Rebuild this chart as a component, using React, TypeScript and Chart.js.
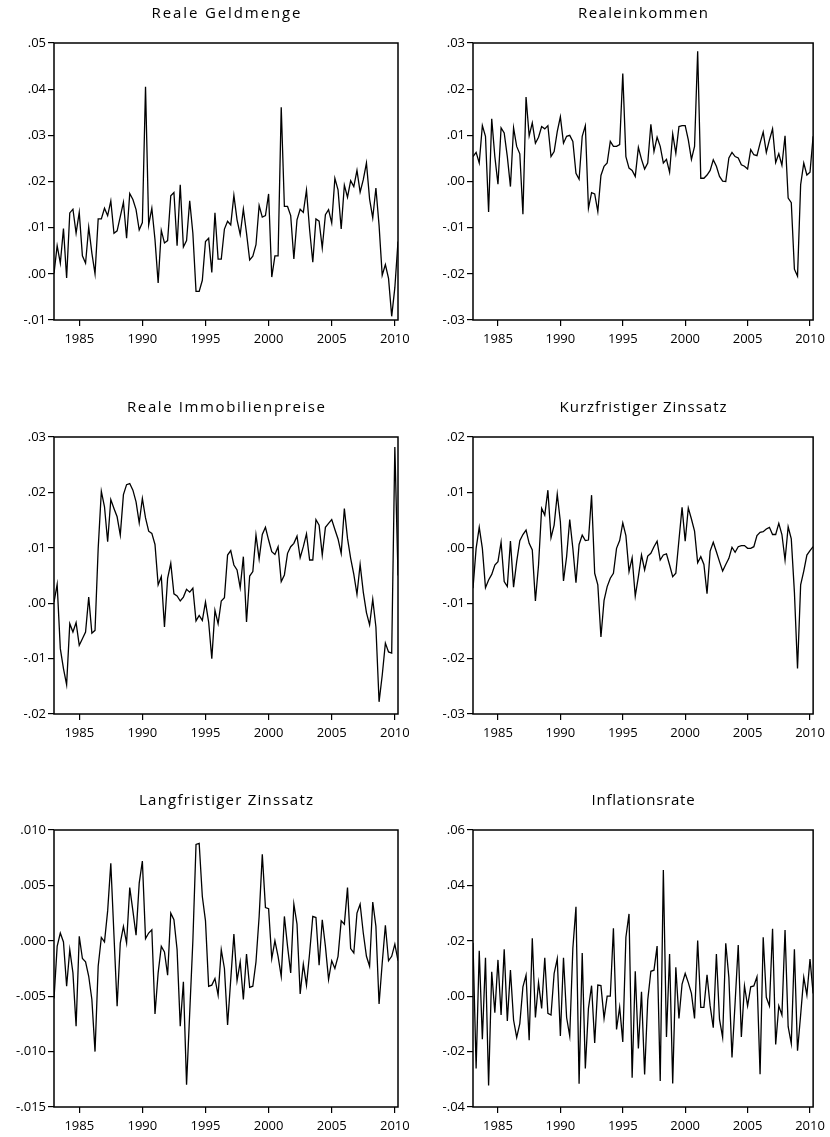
import React, { useEffect, useRef } from 'react';
import { Chart, registerables } from 'chart.js';

Chart.register(...registerables);

// ---- data (quarterly, 1983Q1 .. 2010Q2) ----
const START_YEAR = 1983;
const xTickYears = [1985, 1990, 1995, 2000, 2005, 2010];

const titles = [
  'Reale Geldmenge',
  'Realeinkommen',
  'Reale Immobilienpreise',
  'Kurzfristiger Zinssatz',
  'Langfristiger Zinssatz',
  'Inflationsrate',
];

const realeGeldmenge = [
  0.0001, 0.0061, 0.0023, 0.0098, -0.0009, 0.0132, 0.0140, 0.0088, 0.0133, 0.0039,
  0.0023, 0.0101, 0.0045, 0.0000, 0.0119, 0.0119, 0.0142, 0.0126, 0.0158, 0.0088,
  0.0093, 0.0124, 0.0155, 0.0077, 0.0174, 0.0161, 0.0139, 0.0095, 0.0111, 0.0405,
  0.0106, 0.0142, 0.0074, -0.0020, 0.0094, 0.0067, 0.0072, 0.0169, 0.0176, 0.0061,
  0.0193, 0.0058, 0.0072, 0.0158, 0.0088, -0.0038, -0.0038, -0.0014, 0.0070, 0.0077,
  0.0003, 0.0132, 0.0032, 0.0032, 0.0097, 0.0114, 0.0106, 0.0170, 0.0117, 0.0085,
  0.0140, 0.0088, 0.0030, 0.0038, 0.0063, 0.0148, 0.0123, 0.0126, 0.0173, -0.0007,
  0.0039, 0.0039, 0.0361, 0.0146, 0.0146, 0.0126, 0.0032, 0.0117, 0.0140, 0.0133,
  0.0181, 0.0095, 0.0025, 0.0119, 0.0114, 0.0056, 0.0128, 0.0139, 0.0110, 0.0207,
  0.0182, 0.0097, 0.0192, 0.0166, 0.0202, 0.0189, 0.0224, 0.0177, 0.0204, 0.0240,
  0.0162, 0.0121, 0.0186, 0.0105, -0.0003, 0.0020, -0.0010, -0.0092, -0.0030, 0.0070,
];

const realeinkommen = [
  0.0054, 0.0063, 0.0040, 0.0121, 0.0098, -0.0066, 0.0136, 0.0054, -0.0006, 0.0116,
  0.0105, 0.0054, -0.0011, 0.0116, 0.0076, 0.0060, -0.0071, 0.0183, 0.0099, 0.0127,
  0.0083, 0.0096, 0.0119, 0.0114, 0.0121, 0.0054, 0.0065, 0.0108, 0.0140, 0.0083,
  0.0098, 0.0100, 0.0087, 0.0018, 0.0005, 0.0098, 0.0121, -0.0058, -0.0024, -0.0027,
  -0.0065, 0.0013, 0.0033, 0.0040, 0.0087, 0.0076, 0.0076, 0.0080, 0.0234, 0.0054,
  0.0029, 0.0024, 0.0011, 0.0074, 0.0048, 0.0027, 0.0040, 0.0124, 0.0065, 0.0096,
  0.0076, 0.0040, 0.0048, 0.0020, 0.0103, 0.0061, 0.0119, 0.0121, 0.0121, 0.0090,
  0.0048, 0.0076, 0.0282, 0.0007, 0.0007, 0.0014, 0.0024, 0.0047, 0.0033, 0.0011,
  0.0001, 0.0000, 0.0051, 0.0063, 0.0054, 0.0051, 0.0036, 0.0033, 0.0027, 0.0069,
  0.0058, 0.0056, 0.0083, 0.0107, 0.0063, 0.0090, 0.0114, 0.0041, 0.0060, 0.0035,
  0.0099, -0.0036, -0.0046, -0.0190, -0.0205, -0.0007, 0.0040, 0.0014, 0.0020, 0.0098,
];

const realeImmobilienpreise = [
  0.0002, 0.0034, -0.0082, -0.0118, -0.0147, -0.0037, -0.0052, -0.0035, -0.0076, -0.0064,
  -0.0052, 0.0011, -0.0054, -0.0049, 0.0099, 0.0202, 0.0174, 0.0111, 0.0187, 0.0171,
  0.0156, 0.0123, 0.0196, 0.0214, 0.0216, 0.0204, 0.0183, 0.0145, 0.0189, 0.0154,
  0.0130, 0.0126, 0.0106, 0.0033, 0.0048, -0.0043, 0.0045, 0.0072, 0.0017, 0.0013,
  0.0004, 0.0011, 0.0025, 0.0020, 0.0027, -0.0032, -0.0022, -0.0031, 0.0002, -0.0034,
  -0.0100, -0.0013, -0.0037, 0.0004, 0.0010, 0.0087, 0.0095, 0.0069, 0.0060, 0.0028,
  0.0084, -0.0034, 0.0049, 0.0057, 0.0123, 0.0080, 0.0124, 0.0137, 0.0114, 0.0093,
  0.0088, 0.0102, 0.0039, 0.0051, 0.0090, 0.0102, 0.0108, 0.0121, 0.0082, 0.0102,
  0.0125, 0.0078, 0.0078, 0.0151, 0.0141, 0.0087, 0.0137, 0.0144, 0.0151, 0.0133,
  0.0116, 0.0090, 0.0171, 0.0117, 0.0081, 0.0052, 0.0016, 0.0070, 0.0020, -0.0017,
  -0.0039, 0.0007, -0.0043, -0.0178, -0.0130, -0.0072, -0.0088, -0.0090, 0.0282, 0.0050,
];

const kurzfristigerZinssatz = [
  -0.0073, -0.0001, 0.0037, -0.0001, -0.0072, -0.0058, -0.0048, -0.0031, -0.0025, 0.0010,
  -0.0061, -0.0070, 0.0012, -0.0071, -0.0025, 0.0013, 0.0024, 0.0032, 0.0008, -0.0004,
  -0.0096, -0.0031, 0.0071, 0.0059, 0.0104, 0.0018, 0.0041, 0.0097, 0.0047, -0.0060,
  -0.0016, 0.0051, -0.0001, -0.0063, 0.0006, 0.0023, 0.0013, 0.0014, 0.0095, -0.0046,
  -0.0067, -0.0161, -0.0095, -0.0070, -0.0055, -0.0046, -0.0001, 0.0013, 0.0045, 0.0022,
  -0.0043, -0.0018, -0.0087, -0.0052, -0.0013, -0.0040, -0.0015, -0.0010, 0.0002, 0.0012,
  -0.0022, -0.0013, -0.0011, -0.0031, -0.0052, -0.0046, 0.0014, 0.0073, 0.0012, 0.0072,
  0.0052, 0.0030, -0.0027, -0.0016, -0.0030, -0.0083, -0.0006, 0.0010, -0.0007, -0.0025,
  -0.0042, -0.0030, -0.0019, 0.0001, -0.0008, 0.0002, 0.0004, 0.0004, -0.0001, -0.0001,
  0.0002, 0.0022, 0.0028, 0.0029, 0.0034, 0.0037, 0.0024, 0.0024, 0.0044, 0.0024,
  -0.0022, 0.0038, 0.0016, -0.0080, -0.0218, -0.0067, -0.0042, -0.0013, -0.0005, 0.0002,
];

const langfristigerZinssatz = [
  -0.0052, -0.0005, 0.0007, -0.0001, -0.0041, -0.0008, -0.0029, -0.0077, 0.0004, -0.0016,
  -0.0019, -0.0032, -0.0053, -0.0100, -0.0023, 0.0003, -0.0001, 0.0027, 0.0070, 0.0005,
  -0.0059, -0.0002, 0.0013, -0.0002, 0.0048, 0.0027, 0.0005, 0.0052, 0.0072, 0.0002,
  0.0007, 0.0010, -0.0066, -0.0029, -0.0005, -0.0010, -0.0031, 0.0025, 0.0019, -0.0008,
  -0.0077, -0.0037, -0.0130, -0.0065, 0.0000, 0.0087, 0.0088, 0.0040, 0.0018, -0.0041,
  -0.0040, -0.0034, -0.0049, -0.0008, -0.0025, -0.0076, -0.0035, 0.0006, -0.0036, -0.0019,
  -0.0053, -0.0012, -0.0042, -0.0041, -0.0019, 0.0022, 0.0078, 0.0030, 0.0029, -0.0016,
  0.0000, -0.0014, -0.0032, 0.0022, -0.0005, -0.0029, 0.0033, 0.0015, -0.0048, -0.0021,
  -0.0040, -0.0011, 0.0022, 0.0021, -0.0022, 0.0019, -0.0005, -0.0035, -0.0018, -0.0025,
  -0.0014, 0.0018, 0.0015, 0.0048, -0.0007, -0.0011, 0.0025, 0.0033, 0.0007, -0.0014,
  -0.0023, 0.0035, 0.0013, -0.0057, -0.0020, 0.0014, -0.0018, -0.0014, -0.0003, -0.0018,
];

const inflationsrate = [
  0.0193, -0.0261, 0.0164, -0.0155, 0.0139, -0.0322, 0.0088, -0.0060, 0.0131, -0.0068,
  0.0169, -0.0089, 0.0094, -0.0086, -0.0149, -0.0099, 0.0034, 0.0076, -0.0159, 0.0209,
  -0.0077, 0.0049, -0.0044, 0.0139, -0.0062, -0.0068, 0.0082, 0.0135, -0.0144, 0.0139,
  -0.0077, -0.0144, 0.0173, 0.0323, -0.0316, 0.0156, -0.0261, -0.0044, 0.0038, -0.0169,
  0.0040, 0.0038, -0.0080, 0.0000, 0.0000, 0.0245, -0.0120, -0.0040, -0.0165, 0.0213,
  0.0297, -0.0294, 0.0090, -0.0189, 0.0016, -0.0283, -0.0014, 0.0090, 0.0094, 0.0181,
  -0.0306, 0.0456, -0.0147, 0.0152, -0.0315, 0.0104, -0.0080, 0.0044, 0.0082, 0.0049,
  0.0010, -0.0080, 0.0201, -0.0040, -0.0040, 0.0077, -0.0035, -0.0114, 0.0152, -0.0084,
  -0.0149, 0.0191, 0.0068, -0.0221, -0.0023, 0.0185, -0.0147, 0.0037, -0.0035, 0.0034,
  0.0037, 0.0070, -0.0282, 0.0213, -0.0004, -0.0035, 0.0243, -0.0174, -0.0035, -0.0068,
  0.0239, -0.0110, -0.0171, 0.0169, -0.0197, -0.0068, 0.0068, 0.0004, 0.0134, 0.0010,
];

const geldmengeTicks = [-0.01, 0.0, 0.01, 0.02, 0.03, 0.04, 0.05];
const einkommenTicks = [-0.03, -0.02, -0.01, 0.0, 0.01, 0.02, 0.03];
const immobilienTicks = [-0.02, -0.01, 0.0, 0.01, 0.02, 0.03];
const kurzTicks = [-0.03, -0.02, -0.01, 0.0, 0.01, 0.02];
const langTicks = [-0.015, -0.01, -0.005, 0.0, 0.005, 0.01];
const inflationTicks = [-0.04, -0.02, 0.0, 0.02, 0.04, 0.06];

const seriesList = [
  realeGeldmenge,
  realeinkommen,
  realeImmobilienpreise,
  kurzfristigerZinssatz,
  langfristigerZinssatz,
  inflationsrate,
];
const tickList = [geldmengeTicks, einkommenTicks, immobilienTicks, kurzTicks, langTicks, inflationTicks];
const tickDecimals = [2, 2, 2, 2, 3, 2];

// ---- layout / style (page pixels) ----
const X_MIN = 1983;
const X_MAX = 2010.25;
const FONT = '"Open Sans", "DejaVu Sans", sans-serif';
const cols = [
  { left: 0, width: 415, plotLeft: 54, plotRight: 398 },
  { left: 415, width: 415, plotLeft: 473, plotRight: 816 },
];
const rows = [
  { top: 0, height: 375, plotTop: 43, plotBottom: 320 },
  { top: 375, height: 385, plotTop: 437, plotBottom: 714 },
  { top: 760, height: 377, plotTop: 830, plotBottom: 1107 },
];
const titleWidths = [149, 130, 198, 167, 174, 103];

function fmt(v: number, d: number) {
  const r = Number(v.toFixed(d));
  const s = Math.abs(r).toFixed(d).replace(/^0/, '');
  return r < 0 ? '-' + s : s;
}

function Panel({ idx }: { idx: number }) {
  const ref = useRef<HTMLCanvasElement>(null);
  const col = cols[idx % 2];
  const row = rows[Math.floor(idx / 2)];
  useEffect(() => {
    const values = seriesList[idx];
    const ticks = tickList[idx];
    const dec = tickDecimals[idx];
    const pts = values.map((v, i) => ({ x: START_YEAR + i / 4, y: v }));
    const yAxisW = col.plotLeft - col.left;
    const rightPad = col.left + col.width - col.plotRight;
    const topPad = row.plotTop - row.top;
    const xAxisH = row.top + row.height - row.plotBottom;
    const title = titles[idx];
    const targetW = titleWidths[idx];

    const framePlugin = {
      id: 'frame',
      afterDraw(chart: any) {
        const { ctx, chartArea: a } = chart;
        ctx.save();
        ctx.strokeStyle = '#000';
        ctx.lineWidth = 1.5;
        ctx.strokeRect(a.left, a.top, a.right - a.left, a.bottom - a.top);
        // title
        ctx.font = `15px ${FONT}`;
        (ctx as any).letterSpacing = '0px';
        const w = ctx.measureText(title).width;
        const ls = (targetW - w) / (title.length - 1);
        (ctx as any).letterSpacing = `${ls}px`;
        ctx.fillStyle = '#000';
        ctx.textAlign = 'left';
        ctx.textBaseline = 'middle';
        const cx = (a.left + a.right) / 2;
        ctx.fillText(title, cx - targetW / 2, a.top - 29);
        ctx.restore();
      },
    };

    const chart = new Chart(ref.current!, {
      type: 'line',
      data: {
        datasets: [
          {
            data: pts,
            borderColor: '#000',
            borderWidth: 1.3,
            pointRadius: 0,
            tension: 0,
            fill: false,
          },
        ],
      },
      options: {
        animation: false,
        responsive: false,
        parsing: true,
        layout: { padding: { top: topPad, right: rightPad, bottom: 0, left: 0 } },
        plugins: { legend: { display: false }, tooltip: { enabled: false }, title: { display: false } },
        scales: {
          x: {
            type: 'linear',
            min: X_MIN,
            max: X_MAX,
            afterBuildTicks: (s: any) => {
              s.ticks = xTickYears.map((v) => ({ value: v }));
            },
            afterFit: (s: any) => {
              s.height = xAxisH;
            },
            grid: { drawOnChartArea: false, drawTicks: true, tickLength: 6, color: '#000', lineWidth: 1.2 },
            border: { display: false },
            ticks: {
              color: '#000',
              font: { family: FONT, size: 13 },
              padding: 5,
              maxRotation: 0,
              autoSkip: false,
              callback: (v: any) => String(v),
            },
          },
          y: {
            type: 'linear',
            min: ticks[0],
            max: ticks[ticks.length - 1],
            afterBuildTicks: (s: any) => {
              s.ticks = ticks.map((v) => ({ value: v }));
            },
            afterFit: (s: any) => {
              s.width = yAxisW;
            },
            grid: { drawOnChartArea: false, drawTicks: true, tickLength: 6, color: '#000', lineWidth: 1.2 },
            border: { display: false },
            ticks: {
              color: '#000',
              font: { family: FONT, size: 13 },
              padding: 2,
              autoSkip: false,
              callback: (v: any) => fmt(Number(v), dec),
            },
          },
        },
      },
      plugins: [framePlugin],
    } as any);
    return () => chart.destroy();
  }, [idx]);
  return (
    <canvas
      ref={ref}
      width={col.width}
      height={row.height}
      style={{ position: 'absolute', left: col.left, top: row.top, width: col.width, height: row.height }}
    />
  );
}

export default function App() {
  return (
    <div style={{ position: 'absolute', left: 0, top: 0, width: 830, height: 1137, background: '#fff' }}>
      {[0, 1, 2, 3, 4, 5].map((i) => (
        <Panel key={i} idx={i} />
      ))}
    </div>
  );
}
